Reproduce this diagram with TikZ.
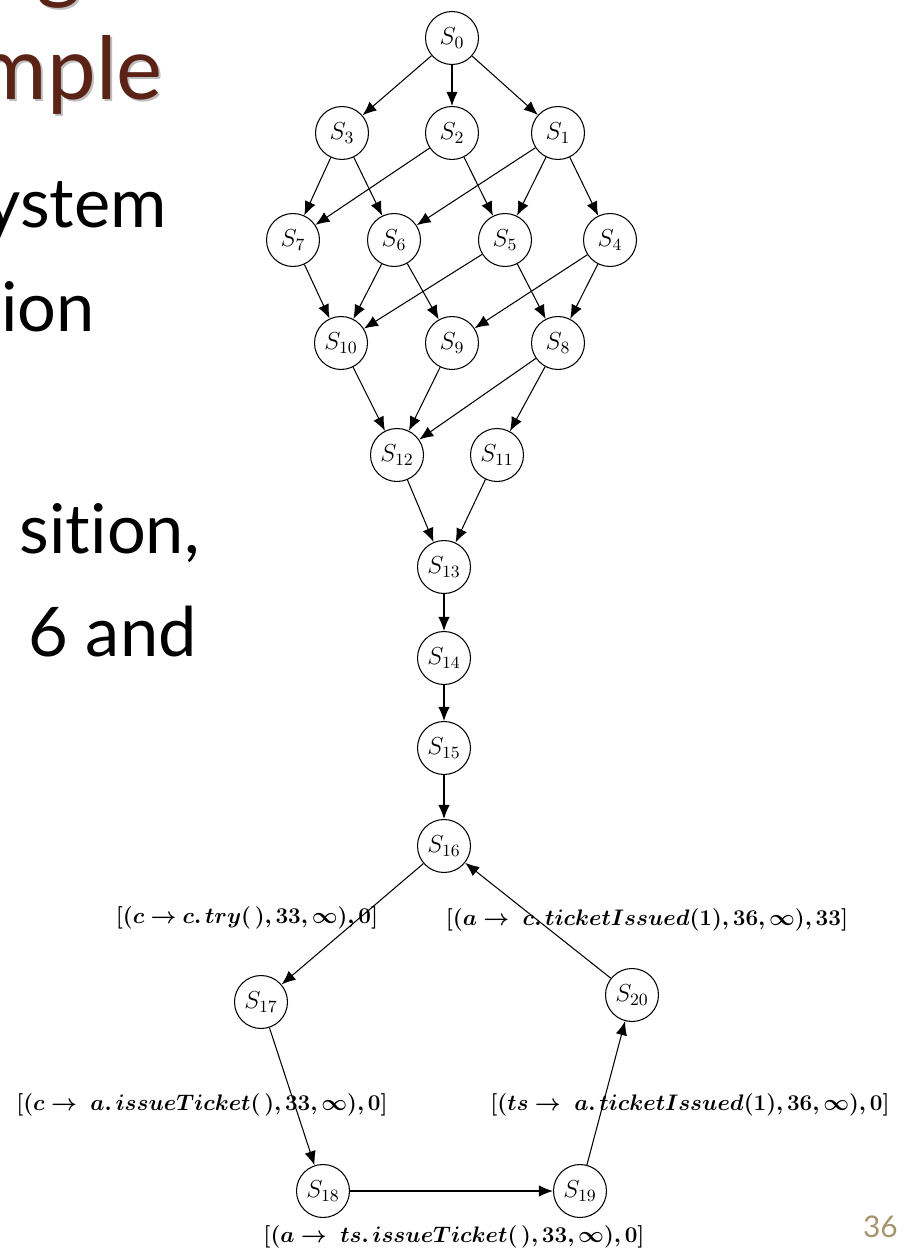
\RequirePackage{fix-cm}
\documentclass[tikz,border=0pt]{standalone}
\usepackage{fontspec}
\usepackage{amsmath,bm}
\setsansfont[Ligatures=NoCommon]{Lato}
\usetikzlibrary{arrows.meta}
\definecolor{titlered}{RGB}{90,35,22}
\definecolor{pagetan}{RGB}{165,148,110}
\begin{document}
\begin{tikzpicture}[x=0.02cm,y=-0.02cm,
  state/.style={circle,draw,line width=0.6pt,minimum size=1.06cm,inner sep=0pt,
                font=\fontsize{14}{16}\selectfont},
  arr/.style={-{Latex[length=8pt,width=6.5pt]},line width=0.6pt},
  lab/.style={inner sep=0pt,font=\fontsize{12.8}{15}\selectfont},
  slidetitle/.style={inner sep=0pt,text=titlered,font=\sffamily\fontsize{49.5}{55}\selectfont},
  slidebody/.style={inner sep=0pt,font=\sffamily\fontsize{39}{44}\selectfont},
  pagenum/.style={inner sep=0pt,text=pagetan,font=\sffamily\fontsize{17}{20}\selectfont}]
\useasboundingbox (0,0) rectangle (903,1250);
\clip (0,0) rectangle (903,1250);

% slide text, title with a soft drop shadow
\node[slidetitle,anchor=base east,text=black!25] at (84,-5) {g};
\node[slidetitle,anchor=base east] (t0) at (82,-7) {g};
\node[slidetitle,anchor=base east,text=black!25] at (165,102) {mple};
\node[slidetitle,anchor=base east] (t1) at (163,100) {mple};
\node[slidebody,anchor=base east] (b1) at (167,228) {ystem};
\node[slidebody,anchor=base east] (b2) at (95,331) {ion};
\node[slidebody,anchor=base east] (b3) at (200,553) {sition,};
\node[slidebody,anchor=base east] (b4) at (197,656) {6 and};
\node[pagenum,anchor=base east] (pg) at (898,1237) {36};

% states
\node[state] (s0)  at (452,38)   {$S_0$};
\node[state] (s3)  at (342,133)  {$S_3$};
\node[state] (s2)  at (452,133)  {$S_2$};
\node[state] (s1)  at (558,133)  {$S_1$};
\node[state] (s7)  at (293,240)  {$S_7$};
\node[state] (s6)  at (394,240)  {$S_6$};
\node[state] (s5)  at (505,240)  {$S_5$};
\node[state] (s4)  at (610,240)  {$S_4$};
\node[state] (s10) at (341,343)  {$S_{10}$};
\node[state] (s9)  at (452,343)  {$S_9$};
\node[state] (s8)  at (558,343)  {$S_8$};
\node[state] (s12) at (397,455)  {$S_{12}$};
\node[state] (s11) at (497,455)  {$S_{11}$};
\node[state] (s13) at (444,567)  {$S_{13}$};
\node[state] (s14) at (444,658)  {$S_{14}$};
\node[state] (s15) at (444,748)  {$S_{15}$};
\node[state] (s16) at (444,846)  {$S_{16}$};
\node[state] (s17) at (261,1002) {$S_{17}$};
\node[state] (s20) at (632,995)  {$S_{20}$};
\node[state] (s18) at (323,1191) {$S_{18}$};
\node[state] (s19) at (580,1191) {$S_{19}$};

% transitions
\draw[arr] (s0) -- (s3);
\draw[arr] (s0) -- (s2);
\draw[arr] (s0) -- (s1);
\draw[arr] (s3) -- (s7);
\draw[arr] (s3) -- (s6);
\draw[arr] (s2) -- (s7);
\draw[arr] (s2) -- (s5);
\draw[arr] (s1) -- (s6);
\draw[arr] (s1) -- (s5);
\draw[arr] (s1) -- (s4);
\draw[arr] (s7) -- (s10);
\draw[arr] (s6) -- (s10);
\draw[arr] (s6) -- (s9);
\draw[arr] (s5) -- (s10);
\draw[arr] (s5) -- (s8);
\draw[arr] (s4) -- (s9);
\draw[arr] (s4) -- (s8);
\draw[arr] (s10) -- (s12);
\draw[arr] (s9) -- (s12);
\draw[arr] (s8) -- (s12);
\draw[arr] (s8) -- (s11);
\draw[arr] (s12) -- (s13);
\draw[arr] (s11) -- (s13);
\draw[arr] (s13) -- (s14);
\draw[arr] (s14) -- (s15);
\draw[arr] (s15) -- (s16);
\draw[arr] (s16) -- (s17);
\draw[arr] (s17) -- (s18);
\draw[arr] (s18) -- (s19);
\draw[arr] (s19) -- (s20);
\draw[arr] (s20) -- (s16);

% transition labels
\node[lab] (l1) at (247,918)  {$\bm{[(c \rightarrow c.\,try(\,),33,\infty),0]}$};
\node[lab] (l2) at (647,920)  {$\bm{[(a \rightarrow\ c.\,ticketIssued(1),36,\infty),33]}$};
\node[lab] (l3) at (202,1105) {$\bm{[(c \rightarrow\ a.\,issueTicket(\,),33,\infty),0]}$};
\node[lab] (l4) at (690,1105) {$\bm{[(ts \rightarrow\ a.\,ticketIssued(1),36,\infty),0]}$};
\node[lab] (l5) at (454,1237) {$\bm{[(a \rightarrow\ ts.\,issueTicket(\,),33,\infty),0]}$};
\end{tikzpicture}
\end{document}
